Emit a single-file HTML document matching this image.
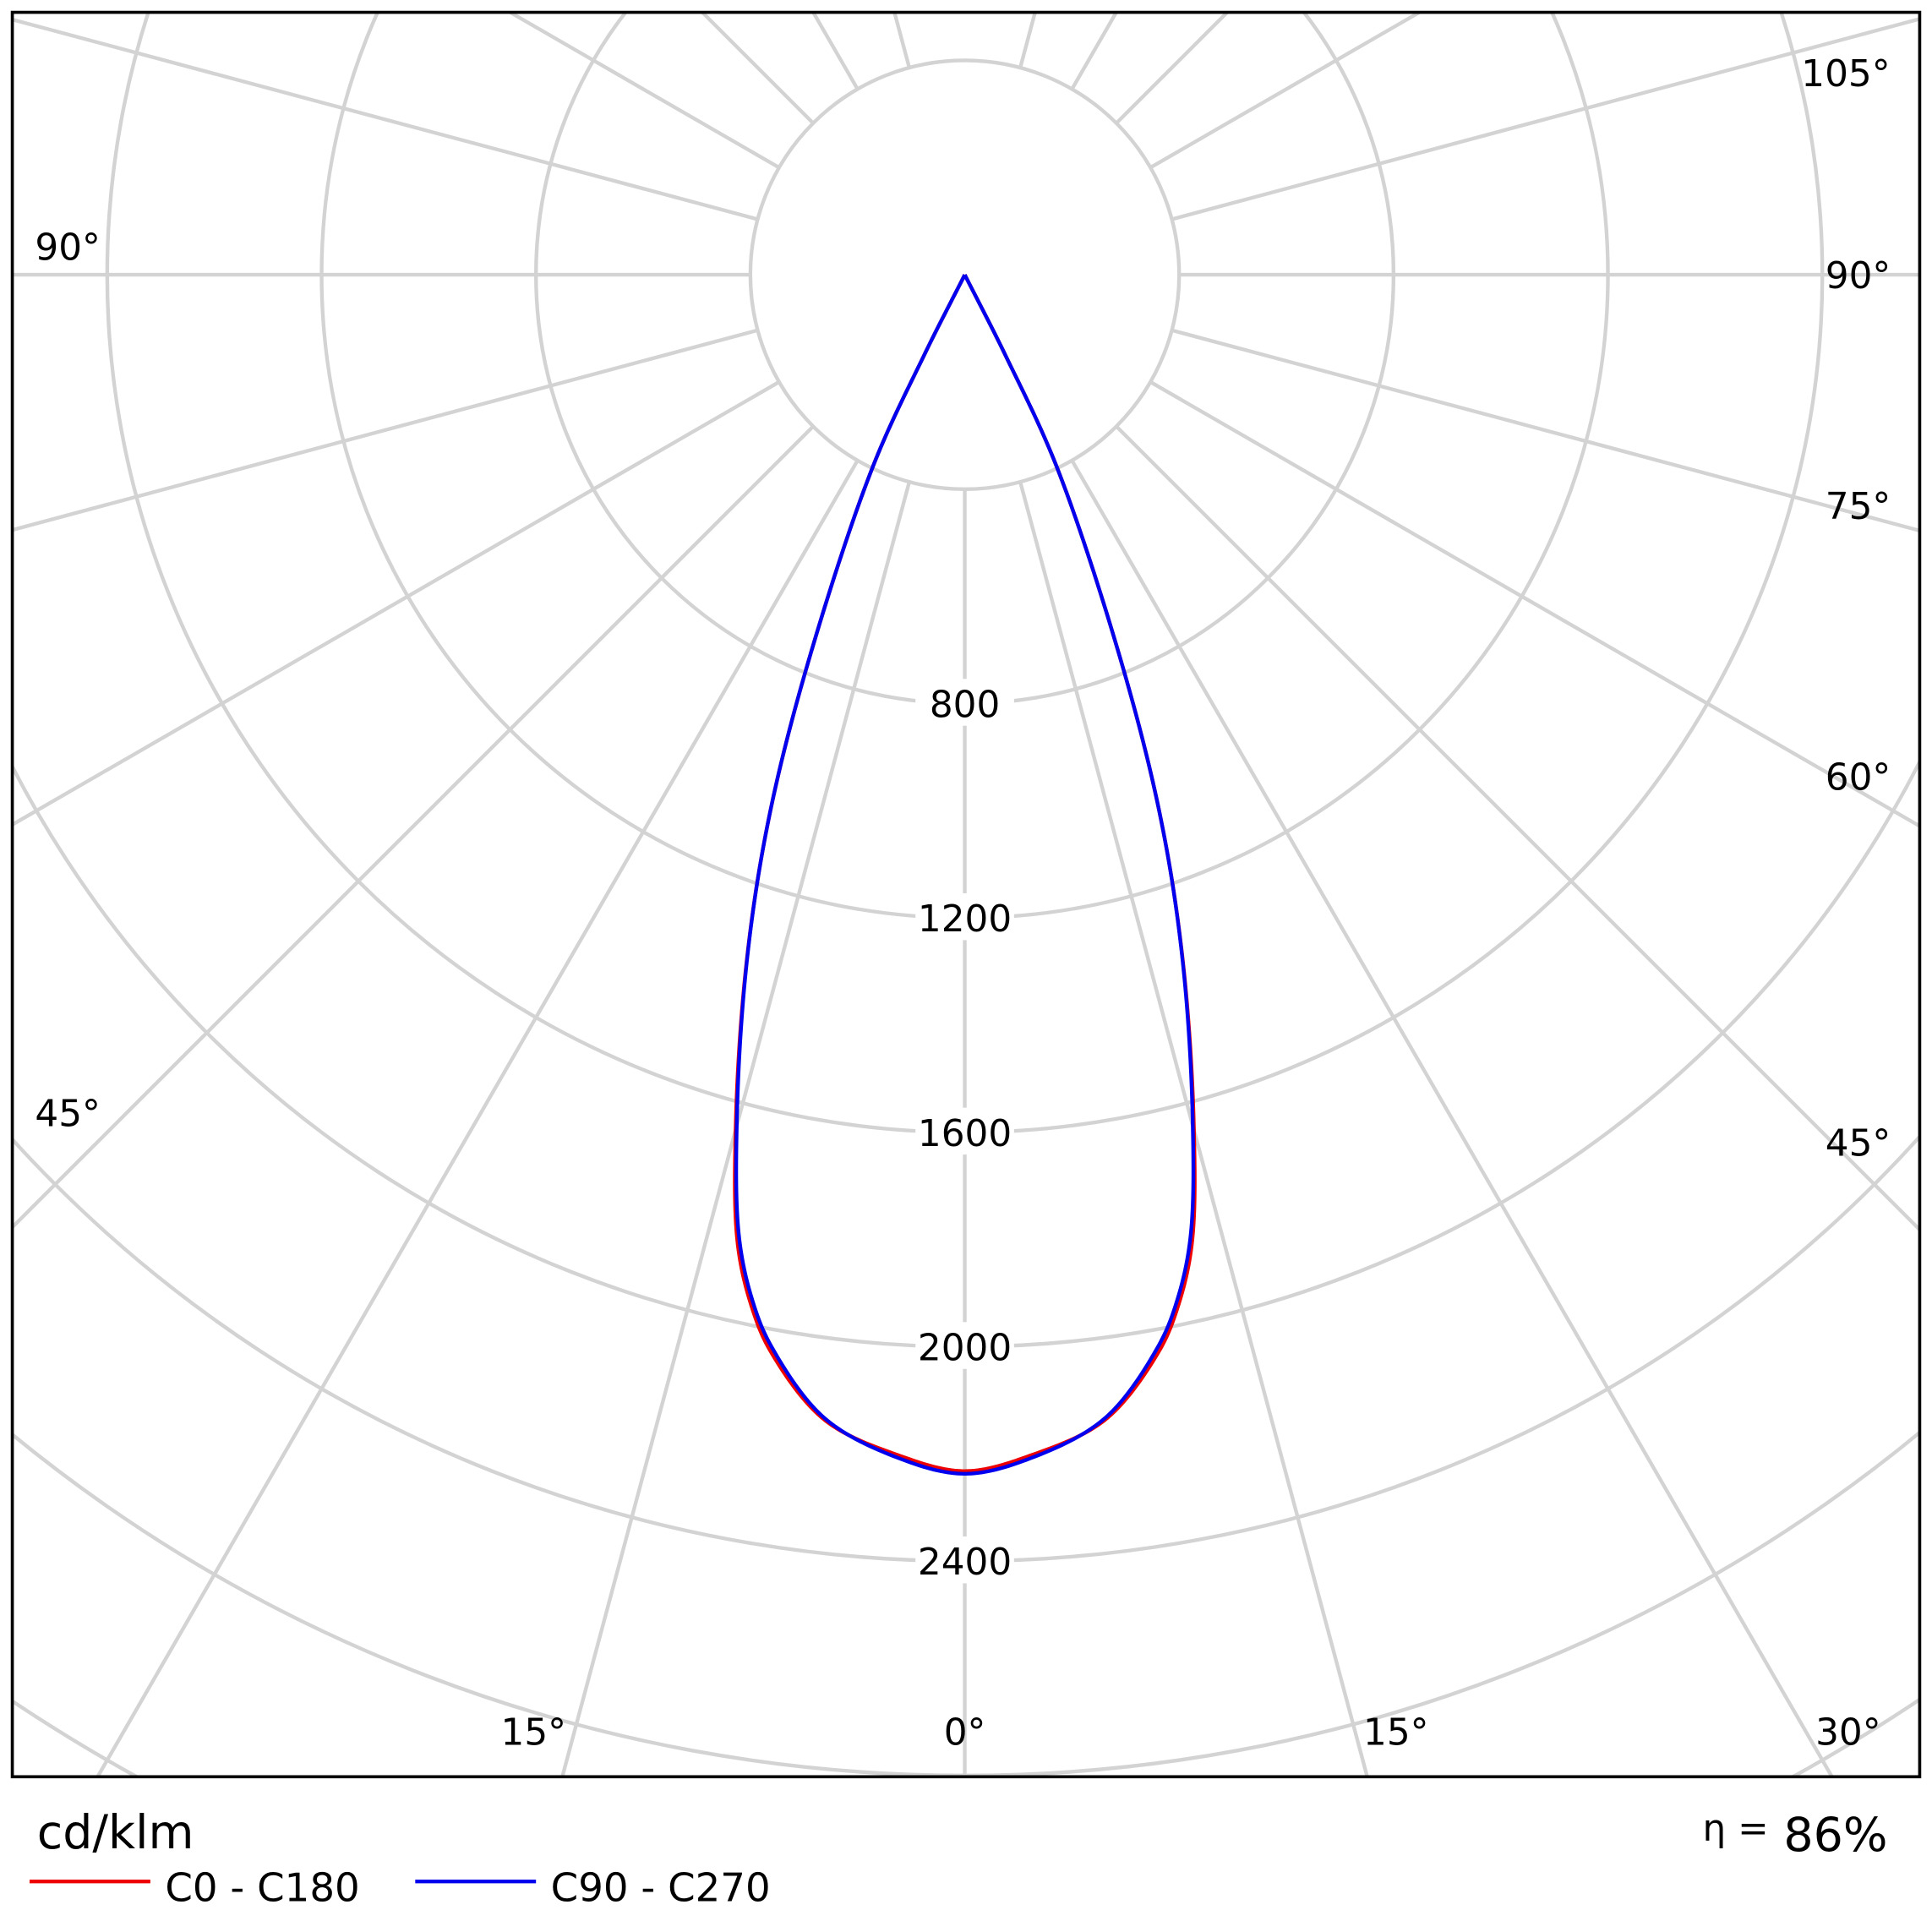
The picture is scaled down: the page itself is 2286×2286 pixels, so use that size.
<!DOCTYPE html>
<html><head><meta charset="utf-8"><style>
html,body{margin:0;padding:0;background:#fff;overflow:hidden;width:2286px;height:2286px}
svg{display:block;position:absolute;left:0;top:0}
text{font-family:"DejaVu Sans","Liberation Sans",sans-serif;}
</style></head><body>
<svg id="chart" width="2286" height="2286" viewBox="0 0 1568 1568" xmlns="http://www.w3.org/2000/svg">
<defs><clipPath id="plotclip"><rect x="10" y="10" width="1548" height="1432"/></clipPath></defs>
<rect x="0" y="0" width="1568" height="1568" fill="#fff"/>
<g id="grid" clip-path="url(#plotclip)"></g>
<g id="rings"></g>
<g id="series" clip-path="url(#plotclip)"></g>
<rect x="10" y="10" width="1548" height="1432" fill="none" stroke="#000" stroke-width="2.5"/>
<g font-size="30" text-anchor="middle">
<text x="1498" y="70">105°</text>
<text x="1508" y="234">90°</text>
<text x="1508" y="421">75°</text>
<text x="1508" y="641">60°</text>
<text x="1508" y="938">45°</text>
<text x="1500" y="1416">30°</text>
<text x="1133" y="1416">15°</text>
<text x="783" y="1416">0°</text>
<text x="433" y="1416">15°</text>
<text x="55" y="914">45°</text>
<text x="55" y="211">90°</text>
</g>
<text x="30" y="1500" font-size="38">cd/klm</text>
<text x="1532" y="1502" font-size="38" text-anchor="end"><tspan font-size="30" dy="-8">η =</tspan><tspan dy="8"> 86%</tspan></text>
<line x1="24" y1="1527" x2="122" y2="1527" stroke="#e00" stroke-width="3"/>
<text x="134" y="1543" font-size="32">C0 - C180</text>
<line x1="337" y1="1527" x2="435" y2="1527" stroke="#00e" stroke-width="3"/>
<text x="447" y="1543" font-size="32">C90 - C270</text>
</svg>
<script>
const angles = [0,3.3,7,10.2,11.7,13.2,15.1,17.6,19.8,22,25.6,26.8,27.6];
const seriesC0 = [2232,2205,2152,2042,1964,1856,1640,1347,1081,781,396,169,0];
const seriesC90 = [2237,2210,2149,2033,1954,1844,1632,1345,1081,781,396,169,0];
const ringValues = [400,800,1200,1600,2000,2400,2800,3200,3600,4000];
const ringLabels = ["800","1200","1600","2000","2400"];
const NS="http://www.w3.org/2000/svg";
const cx=783, cy=223, pxPer=174/400;
function rScale(v){return v*pxPer;}
function pt(deg,v){const a=deg*Math.PI/180;return [cx+rScale(v)*Math.sin(a), cy+rScale(v)*Math.cos(a)];}
const grid=document.getElementById('grid');
ringValues.forEach(v=>{
  const c=document.createElementNS(NS,'circle');
  c.setAttribute('cx',cx);c.setAttribute('cy',cy);c.setAttribute('r',rScale(v));
  c.setAttribute('fill','none');c.setAttribute('stroke','#d3d3d3');c.setAttribute('stroke-width','3');
  
  
  grid.appendChild(c);
});
for(let d=0; d<360; d+=15){
  if(d===180) continue;
  const p1=pt(d,400), p2=pt(d,6000);
  const l=document.createElementNS(NS,'line');
  l.setAttribute('x1',p1[0]);l.setAttribute('y1',p1[1]);l.setAttribute('x2',p2[0]);l.setAttribute('y2',p2[1]);
  l.setAttribute('stroke','#d3d3d3');l.setAttribute('stroke-width','3');
  
  
  grid.appendChild(l);
}
const rings=document.getElementById('rings');
ringLabels.forEach(s=>{
  const v=parseFloat(s); const y=cy+rScale(v);
  const bg=document.createElementNS(NS,'rect');
  bg.setAttribute('x',cx-40);bg.setAttribute('y',y-20);bg.setAttribute('width',80);bg.setAttribute('height',38);bg.setAttribute('fill','#fff');
  
  
  rings.appendChild(bg);
  const t=document.createElementNS(NS,'text');
  t.setAttribute('x',cx);t.setAttribute('y',y+11);t.setAttribute('font-size','30');t.setAttribute('text-anchor','middle');
  t.textContent=s;
  
  
  rings.appendChild(t);
});
// centripetal Catmull-Rom through the polar data points (rendering only)
function crPoint(p0,p1,p2,p3,t){
  const tj=(a,b)=>Math.pow(Math.hypot(b[0]-a[0],b[1]-a[1])||1e-6,0.5);
  const t0=0,t1=t0+tj(p0,p1),t2=t1+tj(p1,p2),t3=t2+tj(p2,p3);
  const u=t1+(t2-t1)*t;
  const L=(a,b,ta,tb)=>[a[0]*(tb-u)/(tb-ta)+b[0]*(u-ta)/(tb-ta),a[1]*(tb-u)/(tb-ta)+b[1]*(u-ta)/(tb-ta)];
  const A1=L(p0,p1,t0,t1),A2=L(p1,p2,t1,t2),A3=L(p2,p3,t2,t3);
  const B1=L(A1,A2,t0,t2),B2=L(A2,A3,t1,t3);
  return L(B1,B2,t1,t2);
}
function curve(vals,color,name){
  const P=[];
  for(let i=angles.length-1;i>=0;i--) P.push(pt(-angles[i],vals[i]));
  for(let i=1;i<angles.length;i++) P.push(pt(angles[i],vals[i]));
  const out=[P[0]];
  for(let i=0;i<P.length-1;i++){
    const p0=i>0?P[i-1]:[2*P[0][0]-P[1][0],2*P[0][1]-P[1][1]];
    const p3=i+2<P.length?P[i+2]:[2*P[i+1][0]-P[i][0],2*P[i+1][1]-P[i][1]];
    for(let k=1;k<=20;k++) out.push(crPoint(p0,P[i],P[i+1],p3,k/20));
  }
  const p=document.createElementNS(NS,'polyline');
  p.setAttribute('points',out.map(q=>q[0].toFixed(2)+','+q[1].toFixed(2)).join(' '));
  p.setAttribute('fill','none');p.setAttribute('stroke',color);p.setAttribute('stroke-width','3');p.setAttribute('stroke-linejoin','round');
  
  
  document.getElementById('series').appendChild(p);
}
curve(seriesC0,'#e00','series-c0-c180');
curve(seriesC90,'#00e','series-c90-c270');
</script>
</body></html>
